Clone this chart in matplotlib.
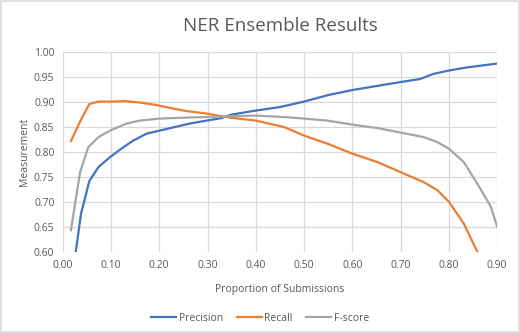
import matplotlib
matplotlib.use("Agg")
import matplotlib.pyplot as plt
from matplotlib.patches import Rectangle

# --- Data (proportion of submissions vs. measurement) ---
precision_x = [0.027, 0.038, 0.055, 0.074, 0.098, 0.126, 0.146, 0.174, 0.201,
               0.236, 0.263, 0.298, 0.329, 0.350, 0.400, 0.450, 0.500, 0.550,
               0.600, 0.650, 0.700, 0.740, 0.767, 0.800, 0.836, 0.900]
precision = [0.600, 0.676, 0.741, 0.769, 0.789, 0.809, 0.822, 0.836, 0.842,
             0.850, 0.856, 0.862, 0.867, 0.874, 0.882, 0.889, 0.900, 0.913,
             0.923, 0.931, 0.939, 0.945, 0.955, 0.962, 0.968, 0.976]

recall_x = [0.017, 0.036, 0.055, 0.074, 0.105, 0.129, 0.160, 0.194, 0.229,
            0.257, 0.298, 0.346, 0.400, 0.459, 0.500, 0.548, 0.600, 0.652,
            0.700, 0.748, 0.776, 0.800, 0.831, 0.859]
recall = [0.821, 0.860, 0.895, 0.900, 0.900, 0.901, 0.898, 0.893, 0.886,
          0.881, 0.876, 0.868, 0.862, 0.849, 0.832, 0.816, 0.796, 0.779,
          0.759, 0.739, 0.723, 0.700, 0.656, 0.600]

fscore_x = [0.017, 0.036, 0.053, 0.074, 0.098, 0.115, 0.132, 0.160, 0.201,
            0.257, 0.326, 0.400, 0.459, 0.500, 0.548, 0.600, 0.652, 0.700,
            0.748, 0.776, 0.800, 0.831, 0.859, 0.887, 0.900]
fscore = [0.643, 0.759, 0.809, 0.829, 0.842, 0.849, 0.856, 0.862, 0.866,
          0.868, 0.870, 0.872, 0.869, 0.866, 0.862, 0.854, 0.847, 0.838,
          0.829, 0.819, 0.806, 0.779, 0.736, 0.690, 0.650]

x_ticks = [0.0, 0.1, 0.2, 0.3, 0.4, 0.5, 0.6, 0.7, 0.8, 0.9]
y_ticks = [0.60, 0.65, 0.70, 0.75, 0.80, 0.85, 0.90, 0.95, 1.00]

# --- Style ---
plt.rcParams['font.family'] = ['Open Sans', 'DejaVu Sans']
TEXT = '#595959'
GRID = '#d9d9d9'

fig = plt.figure(figsize=(5.2, 3.33), dpi=100)
fig.set_facecolor('white')
ax = fig.add_axes([0.1206, 0.2441, 0.8354, 0.6012])

ax.plot(precision_x, precision, color='#4472C4', lw=1.6, label='Precision')
ax.plot(recall_x, recall, color='#ED7D31', lw=1.6, label='Recall')
ax.plot(fscore_x, fscore, color='#A5A5A5', lw=1.6, label='F-score')

ax.set_xlim(0.0, 0.9)
ax.set_ylim(0.6, 1.0)
ax.set_xticks(x_ticks)
ax.set_yticks(y_ticks)
ax.set_xticklabels([f"{v:.2f}" for v in x_ticks])
ax.set_yticklabels([f"{v:.2f}" for v in y_ticks])
ax.tick_params(length=0, labelsize=7.5, colors=TEXT, pad=6)
ax.grid(True, color=GRID, lw=0.9)
ax.set_axisbelow(True)
for s in ax.spines.values():
    s.set_visible(False)

ax.set_title("NER Ensemble Results", fontsize=13.5, color=TEXT, pad=15)
ax.set_xlabel("Proportion of Submissions", fontsize=7.5, color=TEXT, labelpad=9)
ax.set_ylabel("Measurement", fontsize=7.5, color=TEXT, labelpad=3)

fig.legend(loc='lower center', bbox_to_anchor=(0.5, 0.0), ncol=3,
           frameon=False, fontsize=7.5, labelcolor=TEXT, handlelength=2.4,
           handletextpad=0.25, columnspacing=1.3)

# light chart border
fig.patches.append(Rectangle((0.002, 0.003), 0.996, 0.994, transform=fig.transFigure,
                             fill=False, edgecolor=GRID, lw=1.2))

fig.savefig("out.png", dpi=100, facecolor=fig.get_facecolor())
plt.close(fig)
